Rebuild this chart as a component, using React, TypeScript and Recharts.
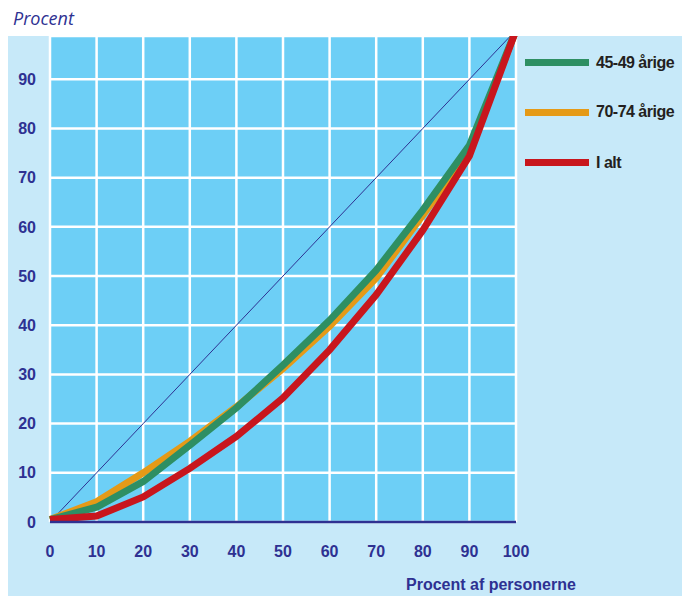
import React from 'react';
import { LineChart, Line, XAxis, YAxis, CartesianGrid } from 'recharts';

// Procent af personerne (x) vs. procent (y)
const shares = [0, 10, 20, 30, 40, 50, 60, 70, 80, 90, 100];
const age4549 = [0.5, 3.0, 8.2, 15.6, 23.2, 31.9, 41.0, 51.2, 63.4, 76.6, 100];
const age7074 = [0.5, 4.1, 10.0, 16.4, 23.4, 31.2, 39.8, 49.6, 62.4, 75.4, 100];
const total = [0.5, 1.2, 5.1, 10.9, 17.4, 25.2, 35.0, 46.2, 59.3, 74.4, 100];
const yTicks = [0, 10, 20, 30, 40, 50, 60, 70, 80, 90];

const seriesNames = ['45-49 årige', '70-74 årige', 'I alt'];
const seriesColors = ['#2e8f63', '#e59a17', '#c8161d'];

const data = shares.map((s, i) => ({
  x: s,
  diag: s,
  a: age4549[i],
  b: age7074[i],
  c: total[i],
}));

const NAVY = '#2e3192';
const FONT = "'Liberation Sans', Arial, sans-serif";

const App: React.FC = () => {
  return (
    <div style={{ position: 'fixed', left: 0, top: 0, width: 682, height: 596, overflow: 'hidden', fontFamily: FONT, background: '#ffffff' }}>
      <div style={{ position: 'absolute', left: 8, top: 36, width: 674, height: 560, background: '#c7e9f9' }} />
      <div style={{ position: 'absolute', left: 13, top: 8, color: NAVY, fontStyle: 'italic', fontSize: 18, fontFamily: "'Open Sans', sans-serif", lineHeight: '20px' }}>
        Procent
      </div>
      <div style={{ position: 'absolute', left: 406, top: 574, color: NAVY, fontWeight: 'bold', fontSize: 16, lineHeight: '22px', whiteSpace: 'nowrap' }}>
        Procent af personerne
      </div>
      {/* legend */}
      <div style={{ position: 'absolute', left: 525, top: 39 }}>
        {seriesNames.map((name, i) => (
          <div key={name} style={{ display: 'flex', alignItems: 'center', height: [47, 52, 49][i], whiteSpace: 'nowrap' }}>
            <div style={{ width: 64, height: 7, background: seriesColors[i], marginRight: 7 }} />
            <span style={{ fontSize: 16, fontWeight: 'bold', color: '#231f20', letterSpacing: -0.5 }}>{name}</span>
          </div>
        ))}
      </div>
      <LineChart
        width={682}
        height={596}
        data={data}
        margin={{ top: 36, right: 166, bottom: 14, left: 8 }}
        style={{ position: 'absolute', left: 0, top: 0 }}
      >
        <CartesianGrid fill="#6dcff6" fillOpacity={1} stroke="#ffffff" strokeWidth={2.5} strokeOpacity={1} />
        <XAxis
          dataKey="x"
          type="number"
          domain={[0, 100]}
          ticks={shares}
          tickLine={false}
          tickSize={0}
          tickMargin={24}
          height={60}
          axisLine={{ stroke: NAVY, strokeWidth: 2.5 }}
          tick={{ fill: NAVY, fontSize: 16, fontWeight: 'bold', fontFamily: FONT }}
          interval={0}
        />
        <YAxis
          type="number"
          domain={[0, 98.8]}
          allowDataOverflow
          ticks={yTicks}
          width={42}
          tickLine={false}
          tickSize={0}
          tickMargin={14}
          axisLine={false}
          tick={{ fill: NAVY, fontSize: 16, fontWeight: 'bold', fontFamily: FONT }}
          interval={0}
        />
        <Line dataKey="diag" stroke={NAVY} strokeWidth={1} dot={false} isAnimationActive={false} legendType="none" />
        <Line dataKey="b" name={seriesNames[1]} stroke={seriesColors[1]} strokeWidth={7} dot={false} isAnimationActive={false} strokeLinejoin="miter" />
        <Line dataKey="a" name={seriesNames[0]} stroke={seriesColors[0]} strokeWidth={7} dot={false} isAnimationActive={false} strokeLinejoin="miter" />
        <Line dataKey="c" name={seriesNames[2]} stroke={seriesColors[2]} strokeWidth={7} dot={false} isAnimationActive={false} strokeLinejoin="miter" />
      </LineChart>
    </div>
  );
};

export default App;
